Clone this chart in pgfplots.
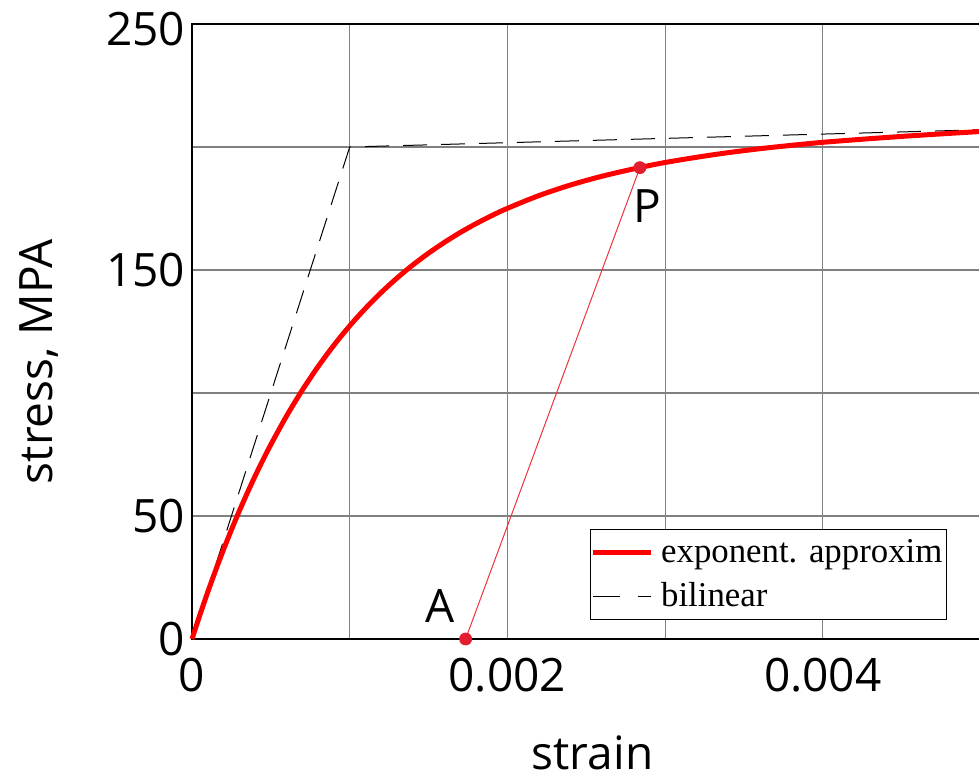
\documentclass[border=0pt]{standalone}
\usepackage{fontspec}
\setmainfont{Open Sans}
\newfontfamily\legfont{Liberation Serif}
\usepackage{pgfplots}
\pgfplotsset{compat=1.18}
\definecolor{apred}{RGB}{238,50,60}
\definecolor{dotred}{RGB}{228,28,48}
\begin{document}
\begin{tikzpicture}
\begin{axis}[
  at={(0pt,0pt)}, anchor=south west,
  width=394.25pt, height=307.5pt, scale only axis,
  xmin=0, xmax=0.005, ymin=0, ymax=250,
  xtick={0,0.001,0.002,0.003,0.004,0.005},
  xticklabels={0,,0.002,,0.004,},
  ytick={0,50,100,150,200,250},
  yticklabels={0,50,,150,,{\raisebox{-2.75pt}[\height][\depth]{250}}},
  scaled x ticks=false,
  major tick length=0pt,
  grid=major,
  grid style={draw=black!50, line width=0.6pt},
  axis line style={line width=0.7pt},
  tick label style={font=\fontsize{23}{28}\selectfont},
  /pgf/number format/assume math mode=true,
  xticklabel style={yshift=-6pt},
  label style={font=\fontsize{23}{28}\selectfont},
  xlabel={strain},
  ylabel={stress, MPA},
  xlabel style={at={(axis description cs:0.508,-0.213)}, anchor=base},
  ylabel style={at={(axis description cs:-0.1763,0.451)}, anchor=base},
  clip=false,
  legend image code/.code={\draw[#1] (0pt,0pt) -- (29pt,0pt);},
  legend cell align=left,
  legend style={at={(axis description cs:0.9575,0.1789)}, anchor=north east,
    draw=black, line width=0.6pt, font=\legfont\fontsize{17.4}{20}\selectfont,
    inner xsep=0pt, inner ysep=3pt, row sep=4.5pt},
]
\addplot[black, line width=0.5pt, dash pattern=on 12pt off 7pt, forget plot]
  coordinates {(0,0) (0.001,200) (0.005,207)};
\addplot[red, line width=2.5pt, smooth, forget plot] coordinates {
(0,0) (0.00005,9.78) (0.0001,19.09) (0.00015,27.94) (0.0002,36.37)
(0.00025,44.39) (0.0003,52.03) (0.00035,59.29) (0.0004,66.21)
(0.00045,72.79) (0.0005,79.05) (0.0006,90.69) (0.0007,101.23)
(0.0008,110.78) (0.0009,119.44) (0.001,127.29) (0.0011,134.41)
(0.0012,140.86) (0.0013,146.72) (0.0014,152.03) (0.0015,156.85)
(0.0016,161.22) (0.0017,165.20) (0.0018,168.80) (0.0019,172.09)
(0.002,175.07) (0.0022,180.25) (0.0024,184.55) (0.0026,188.12)
(0.0028,191.10) (0.003,193.7) (0.0033,196.8) (0.0036,199.3)
(0.004,201.9) (0.0045,204.3) (0.005,206.3)};
\addplot[apred, line width=0.5pt, forget plot] coordinates {(0.001735,0) (0.00284,191.6)};
\addplot[only marks, mark=*, mark size=3pt, dotred, forget plot]
  coordinates {(0.001735,0) (0.00284,191.6)};
\addlegendimage{red, line width=2.5pt}
\addlegendentry{\hspace{2pt}exponent. approxim\hspace{7pt}}
\addlegendimage{black, line width=0.5pt, dash pattern=on 13.5pt off 9pt}
\addlegendentry{\hspace{2pt}bilinear}
\node[font=\fontsize{23}{28}\selectfont] at (axis cs:0.001576,13.6) {A};
\node[font=\fontsize{23}{28}\selectfont] at (axis cs:0.002888,176) {P};
\end{axis}
\pgfresetboundingbox
\path[use as bounding box] (-96pt,-71pt) rectangle (393.5pt,319.5pt);
\end{tikzpicture}
\end{document}
